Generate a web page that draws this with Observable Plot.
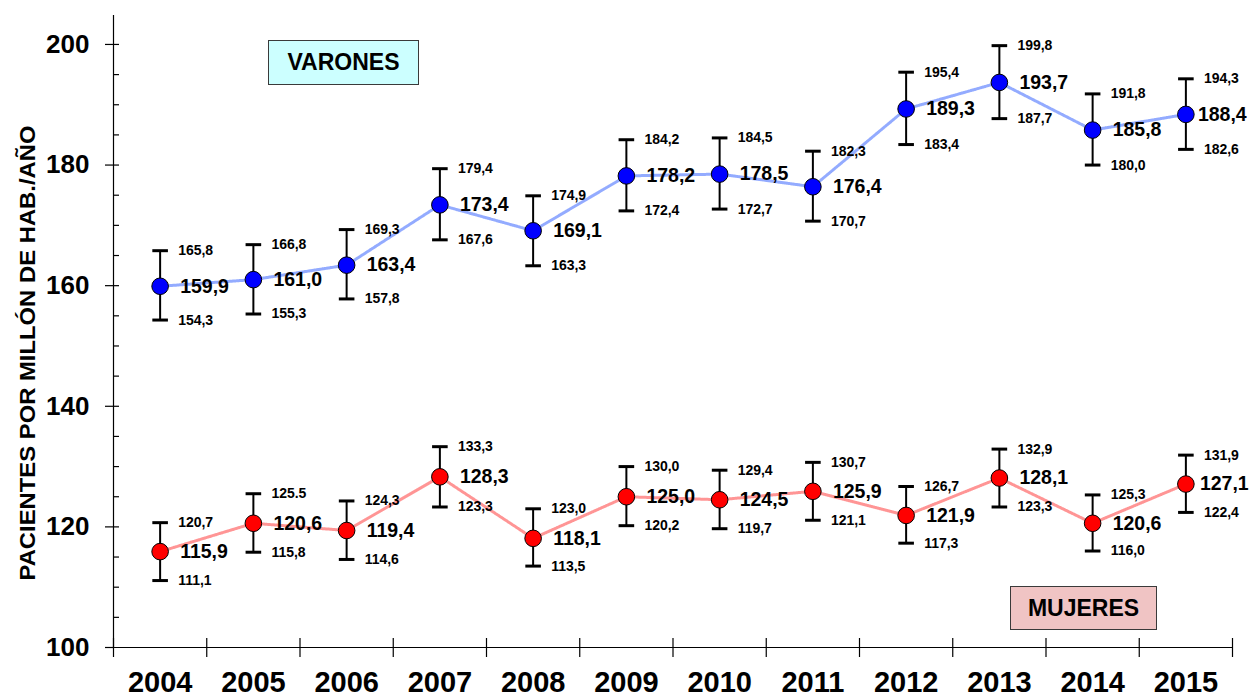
<!DOCTYPE html>
<html>
<head>
<meta charset="utf-8">
<script src="https://cdn.jsdelivr.net/npm/d3@7"></script>
<script src="https://cdn.jsdelivr.net/npm/@observablehq/plot@0.6"></script>
<style>
  body { margin: 0; background: #fff; }
  #wrap { position: relative; width: 1252px; height: 696px; font-family: "Liberation Sans", Arial, sans-serif; }
  .box { position: absolute; box-sizing: border-box; border: 1.5px solid #3a3a3a; font-weight: bold; font-size: 23px;
         display: flex; align-items: center; justify-content: center; color: #000; }
</style>
</head>
<body>
<div id="wrap"></div>
<script>
const years = [2004, 2005, 2006, 2007, 2008, 2009, 2010, 2011, 2012, 2013, 2014, 2015];
const menMean  = [159.9, 161.0, 163.4, 173.4, 169.1, 178.2, 178.5, 176.4, 189.3, 193.7, 185.8, 188.4];
const menLow   = [154.3, 155.3, 157.8, 167.6, 163.3, 172.4, 172.7, 170.7, 183.4, 187.7, 180.0, 182.6];
const menHigh  = [165.8, 166.8, 169.3, 179.4, 174.9, 184.2, 184.5, 182.3, 195.4, 199.8, 191.8, 194.3];
const womenMean = [115.9, 120.6, 119.4, 128.3, 118.1, 125.0, 124.5, 125.9, 121.9, 128.1, 120.6, 127.1];
const womenLow  = [111.1, 115.8, 114.6, 123.3, 113.5, 120.2, 119.7, 121.1, 117.3, 123.3, 116.0, 122.4];
const womenHigh = [120.7, 125.5, 124.3, 133.3, 123.0, 130.0, 129.4, 130.7, 126.7, 132.9, 125.3, 131.9];
const yTicks = [100, 120, 140, 160, 180, 200];
const yMinorTicks = [105, 110, 115, 120, 125, 130, 135, 140, 145, 150, 155, 160, 165, 170, 175, 180, 185, 190, 195, 200];
const yTitle = "PACIENTES POR MILLÓN DE HAB./AÑO";
const seriesNames = ["VARONES", "MUJERES"];

const fmt = v => v.toFixed(1).replace(".", ",");
const womenHighText = womenHigh.map(fmt);
womenHighText[1] = "125.5"; // as printed in the original

const lastYear = years[years.length - 1];
const men = years.map((year, i) => ({year, mean: menMean[i], lo: menLow[i], hi: menHigh[i],
  meanT: fmt(menMean[i]), loT: fmt(menLow[i]), hiT: fmt(menHigh[i])}));
const women = years.map((year, i) => ({year, mean: womenMean[i], lo: womenLow[i], hi: womenHigh[i],
  meanT: fmt(womenMean[i]), loT: fmt(womenLow[i]), hiT: womenHighText[i]}));

const bounds = [...years.map(y => y - 0.5), lastYear + 0.5];

const capSymbol = { draw(ctx, size) { const r = Math.sqrt(size / Math.PI); ctx.moveTo(-r, 0); ctx.lineTo(r, 0); } };

function seriesMarks(data, lineColor, dotColor, lastDx) {
  const meanStyle = {x: "year", y: "mean", text: "meanT", textAnchor: "start", fontSize: 19.5, fontWeight: "bold"};
  return [
    Plot.line(data, {x: "year", y: "mean", stroke: lineColor, strokeWidth: 3, strokeDasharray: "1 1", strokeOpacity: 0.8}),
    Plot.ruleX(data, {x: "year", y1: "lo", y2: "hi", stroke: "black", strokeWidth: 2}),
    Plot.dot(data, {x: "year", y: "hi", r: 7.8, symbol: capSymbol, stroke: "black", strokeWidth: 3, fill: "none"}),
    Plot.dot(data, {x: "year", y: "lo", r: 7.8, symbol: capSymbol, stroke: "black", strokeWidth: 3, fill: "none"}),
    Plot.dot(data, {x: "year", y: "mean", r: 8.3, fill: dotColor, stroke: "black", strokeWidth: 1}),
    Plot.text(data.filter(d => d.year !== lastYear), {...meanStyle, dx: 20}),
    Plot.text(data.filter(d => d.year === lastYear), {...meanStyle, dx: lastDx}),
    Plot.text(data, {x: "year", y: "hi", text: "hiT", dx: 18, textAnchor: "start", fontSize: 14, fontWeight: "bold"}),
    Plot.text(data, {x: "year", y: "lo", text: "loT", dx: 18, textAnchor: "start", fontSize: 14, fontWeight: "bold"})
  ];
}

const chart = Plot.plot({
  width: 1252,
  height: 696,
  marginLeft: 113,
  marginRight: 20,
  marginTop: 15,
  marginBottom: 49,
  x: {type: "linear", domain: [bounds[0], bounds[bounds.length - 1]]},
  y: {domain: [100, 204.8]},
  style: {fontFamily: "'Liberation Sans', Arial, sans-serif", background: "white", color: "black", overflow: "visible"},
  marks: [
    Plot.ruleX([bounds[0]], {stroke: "black", strokeWidth: 1.2}),
    Plot.ruleY([100], {stroke: "black", strokeWidth: 1.2}),
    Plot.axisY(yTicks, {tickSize: 8, tickPadding: 16, fontSize: 26, fontWeight: "bold", label: null, strokeWidth: 1.2}),
    Plot.tickY(yMinorTicks, {y: d => d, insetRight: 1113, stroke: "black", strokeWidth: 1.2}),
    Plot.axisX(bounds, {tickSize: 10, tickFormat: () => "", label: null, strokeWidth: 1.2}),
    Plot.tickX(bounds, {x: d => d, insetTop: 623, stroke: "black", strokeWidth: 1.2}),
    Plot.axisX(years, {tickSize: 0, tickPadding: 24, fontSize: 29, fontWeight: "bold", tickFormat: d => String(d), label: null}),
    ...seriesMarks(men, "#7896ff", "#0000ff", 12),
    ...seriesMarks(women, "#ff7a7a", "#ff0000", 14)
  ]
});

const wrap = document.getElementById("wrap");
wrap.appendChild(chart);

// rotated y-axis title
d3.select(chart).append("text")
  .attr("transform", "translate(27,353) rotate(-90)")
  .attr("text-anchor", "middle")
  .attr("dominant-baseline", "central")
  .attr("font-size", 22)
  .attr("font-weight", "bold")
  .attr("fill", "black")
  .attr("textLength", 455)
  .attr("lengthAdjust", "spacingAndGlyphs")
  .text(yTitle);

const b1 = document.createElement("div");
b1.className = "box";
b1.textContent = seriesNames[0];
Object.assign(b1.style, {left: "268px", top: "40px", width: "151px", height: "45px", background: "#ccffff"});
wrap.appendChild(b1);

const b2 = document.createElement("div");
b2.className = "box";
b2.textContent = seriesNames[1];
Object.assign(b2.style, {left: "1010px", top: "586px", width: "147px", height: "44px", background: "#f0c4c4"});
wrap.appendChild(b2);
</script>
</body>
</html>
